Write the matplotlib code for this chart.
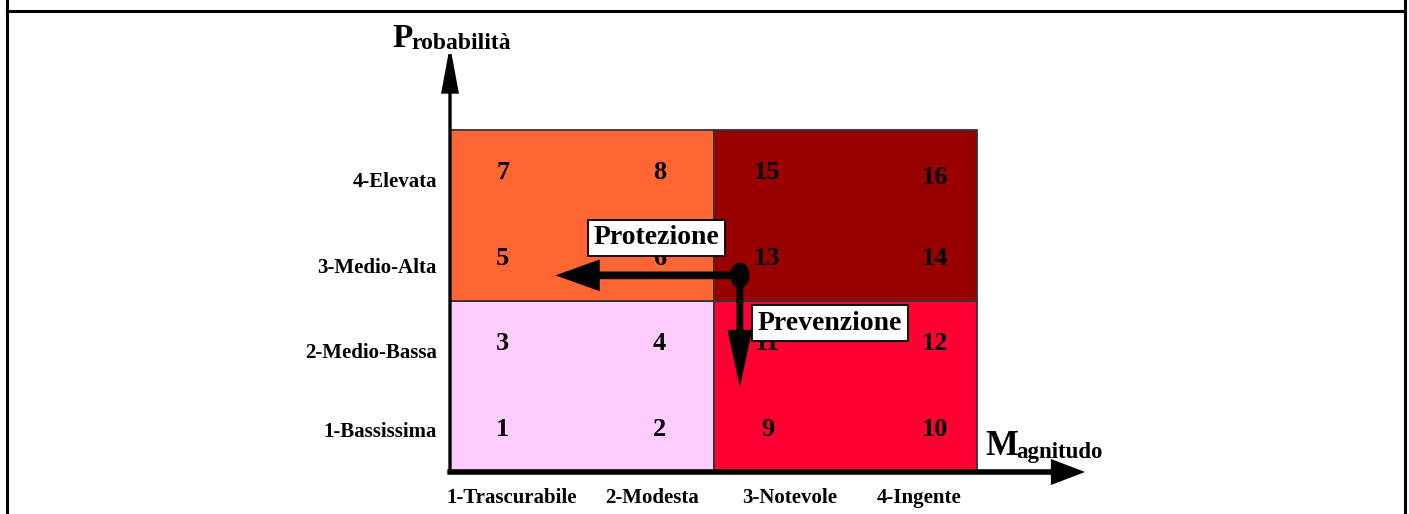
import matplotlib
matplotlib.use("Agg")
import matplotlib.pyplot as plt
from matplotlib.patches import Rectangle, Ellipse
from matplotlib.lines import Line2D

# data
magnitudo_labels = ["1-Trascurabile", "2-Modesta", "3-Notevole", "4-Ingente"]
probabilita_labels = ["1-Bassissima", "2-Medio-Bassa", "3-Medio-Alta", "4-Elevata"]
# cell numbers, rows from bottom (probabilita 1) to top (probabilita 4)
cell_numbers = [
    [1, 2, 9, 10],
    [3, 4, 11, 12],
    [5, 6, 13, 14],
    [7, 8, 15, 16],
]
# 2x2 risk zones, rows bottom->top, cols left->right
zone_colors = [
    ["#FFCCFF", "#FF0033"],
    ["#FF6633", "#990000"],
]

plt.rcParams["font.family"] = ["Liberation Serif", "DejaVu Serif"]
plt.rcParams["font.weight"] = "bold"

W, H = 1409, 514
fig = plt.figure(figsize=(W / 100, H / 100), dpi=100)
ax = fig.add_axes([0, 0, 1, 1])
ax.set_axis_off()

# pixel layout of the 4x4 grid
gx0, gx1, gy_top, gy_bot = 450, 977, 130, 472
sx = (gx1 - gx0) / 4
sy = (gy_bot - gy_top) / 4


def arrow(start, end, lw, hl, hw, z=5):
    ax.annotate("", xy=end, xytext=start,
                arrowprops=dict(arrowstyle=f"-|>,head_length={hl},head_width={hw}",
                                lw=lw, color="black", shrinkA=0, shrinkB=0,
                                mutation_scale=1, joinstyle="miter", capstyle="butt"),
                zorder=z)


# zones
for i in range(2):
    for j in range(2):
        ax.add_patch(Rectangle((2 * j, 2 * i), 2, 2, facecolor=zone_colors[i][j],
                               edgecolor="#333333", lw=1.3, zorder=1))

# cell numbers
num_x = [0.40, 1.59, 2.41, 3.68]
num_dy = [0.0, 0.0, 0.0, -0.05]
for r, row in enumerate(cell_numbers):
    for c, n in enumerate(row):
        dy = num_dy[c] if r == 3 else 0.0
        ax.text(num_x[c], r + 0.5 + dy, str(n), ha="center", va="center",
                fontsize=19, color="black", zorder=2)

# axes arrows
arrow((0, -0.02), (0, 4.99), 2.4, 27, 5.0, z=3)
arrow((-0.02, 0), (4.82, 0), 4.0, 17, 6.5, z=3)

# axis titles
p = ax.text(-0.44, 4.97, "P", fontsize=24, ha="left", va="baseline", zorder=4)
ax.annotate("robabilità", xy=(0.95, 0), xycoords=p, fontsize=17,
            ha="left", va="bottom", zorder=4)
m = ax.text(4.06, 0.20, "M", fontsize=25, ha="left", va="baseline", zorder=4)
ax.annotate("agnitudo", xy=(0.95, 0), xycoords=m, fontsize=16.5,
            ha="left", va="bottom", zorder=4)

# category labels
prob_y = [0.47, 1.39, 2.39, 3.39]
for y, lab in zip(prob_y, probabilita_labels):
    ax.text(-0.10, y, lab, ha="right", va="center", fontsize=15)
mag_x = [0.47, 1.53, 2.58, 3.56]
for x, lab in zip(mag_x, magnitudo_labels):
    ax.text(x, -0.30, lab, ha="center", va="center", fontsize=15)

# intervention arrows
origin = (2.20, 2.30)
arrow(origin, (0.80, origin[1]), 5.5, 21, 7.5)
arrow(origin, (origin[0], 0.99), 5.0, 27, 5.8)
ax.add_patch(Ellipse(origin, 0.137, 0.28, facecolor="black", edgecolor="black", zorder=6))

box = dict(boxstyle="square,pad=0.2", facecolor="white", edgecolor="black", lw=1.3)
ax.text(1.565, 2.74, "Protezione", ha="center", va="center", fontsize=20,
        bbox=box, zorder=4)
ax.text(2.885, 1.74, "Prevenzione", ha="center", va="center", fontsize=20,
        bbox=box, zorder=4)

ax.set_xlim(-gx0 / sx, (W - gx0) / sx)
ax.set_ylim(-(H - gy_bot) / sy, gy_bot / sy)

# outer table frame
fig.add_artist(Line2D([7 / W, 1405 / W], [1 - 11 / H] * 2, transform=fig.transFigure,
                      color="black", lw=2.2))
fig.add_artist(Line2D([7 / W] * 2, [0, 1], transform=fig.transFigure, color="black", lw=2.2))
fig.add_artist(Line2D([1405 / W] * 2, [0, 1], transform=fig.transFigure, color="black", lw=2.2))

fig.savefig("out.png", dpi=100)
